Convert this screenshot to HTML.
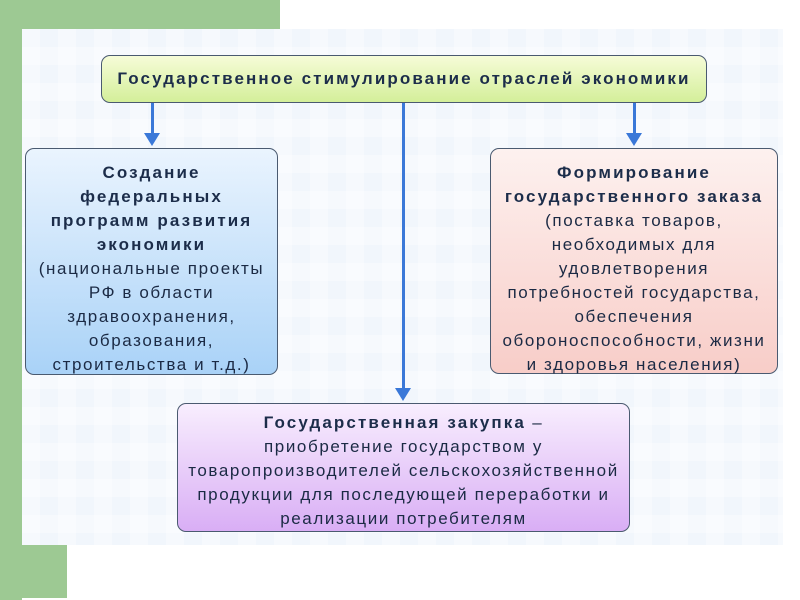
<!DOCTYPE html>
<html><head><meta charset="utf-8"><style>
body{margin:0;width:800px;height:600px;background:#fff;position:relative;overflow:hidden;font-family:"Liberation Sans","DejaVu Sans",sans-serif;}
.g{position:absolute;background:#9dc993;}
#img{position:absolute;left:22px;top:29px;width:761px;height:516px;
background-color:#f1f6fc;
background-image:linear-gradient(90deg,rgba(255,255,255,.35) 50%,transparent 50%),linear-gradient(0deg,rgba(255,255,255,.35) 50%,transparent 50%);
background-size:36px 36px;}
.b{position:absolute;border:1.5px solid #4a5a70;border-radius:9px;box-sizing:border-box;text-align:center;color:#1b2a44;font-size:17px;line-height:24px;letter-spacing:1.6px;white-space:nowrap;}
.b b{color:#1c2d4a;letter-spacing:2.1px;}
.ln{position:absolute;background:#3a78d8;width:3px;}
.ah{position:absolute;width:0;height:0;border-left:8px solid transparent;border-right:8px solid transparent;border-top:13px solid #3a78d8;}
</style></head><body>
<div class="g" style="left:0;top:0;width:280px;height:29px"></div>
<div class="g" style="left:0;top:0;width:22px;height:600px"></div>
<div class="g" style="left:0;top:545px;width:67px;height:53px"></div>
<div id="img"></div>
<div class="b" style="left:101px;top:55px;width:606px;height:48px;background:linear-gradient(#f6fcd8,#d4ef9a);line-height:46px;font-size:17px"><b>Государственное стимулирование отраслей экономики</b></div>
<div class="ln" style="left:151px;top:103px;height:32px"></div><div class="ah" style="left:144px;top:133px"></div>
<div class="ln" style="left:633px;top:103px;height:32px"></div><div class="ah" style="left:626px;top:133px"></div>
<div class="ln" style="left:402px;top:103px;height:286px"></div><div class="ah" style="left:395px;top:388px"></div>
<div class="b" style="left:25px;top:148px;width:253px;height:227px;background:linear-gradient(#eaf4fe,#a9d2f7);padding-top:12px"><b>Создание<br>федеральных<br>программ развития<br>экономики</b><br>(национальные проекты<br>РФ в области<br>здравоохранения,<br>образования,<br>строительства и т.д.)</div>
<div class="b" style="left:490px;top:148px;width:288px;height:226px;background:linear-gradient(#fdf1ef,#f8cdc8);padding-top:12px"><b>Формирование<br>государственного заказа</b><br>(поставка товаров,<br>необходимых для<br>удовлетворения<br>потребностей государства,<br>обеспечения<br>обороноспособности, жизни<br>и здоровья населения)</div>
<div class="b" style="left:177px;top:403px;width:453px;height:129px;background:linear-gradient(#f8eefe,#d9aef5);padding-top:7px"><b>Государственная закупка</b> –<br>приобретение государством у<br>товаропроизводителей сельскохозяйственной<br>продукции для последующей переработки и<br>реализации потребителям</div>
</body></html>
